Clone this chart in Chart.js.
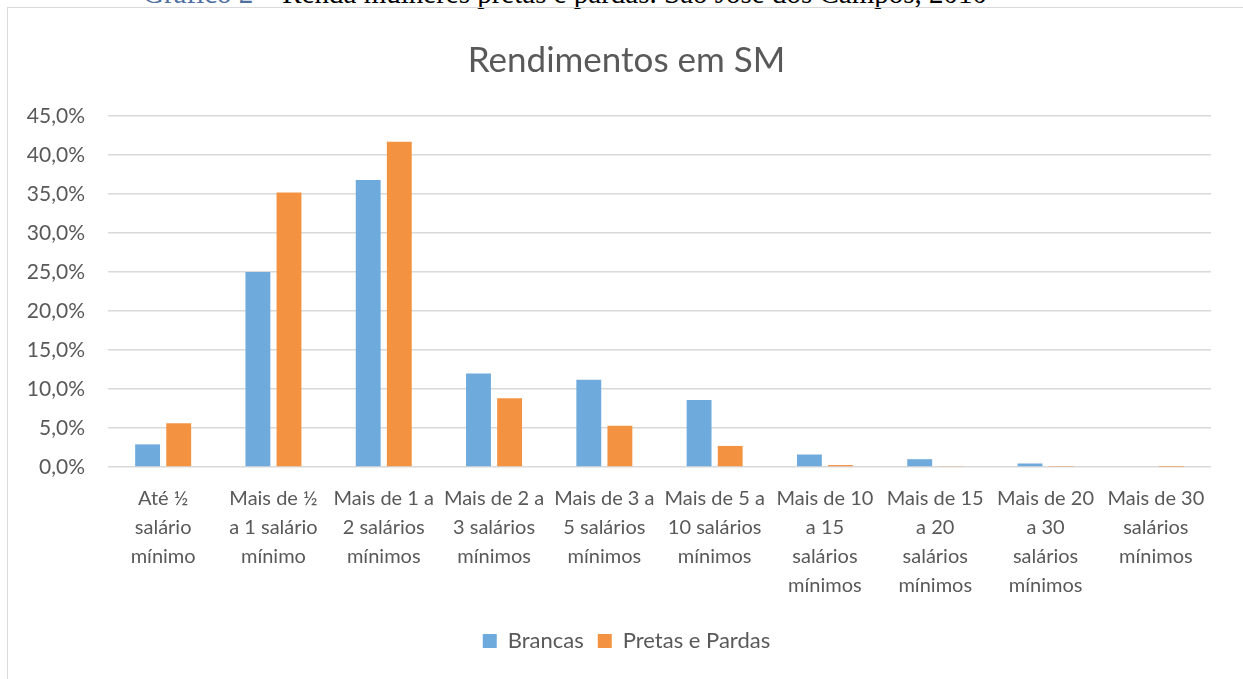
<!DOCTYPE html>
<html>
<head>
<meta charset="utf-8">
<script src="https://cdn.jsdelivr.net/npm/chart.js@4.4.1/dist/chart.umd.min.js"></script>
<style>
  html, body { margin: 0; padding: 0; background: #ffffff; overflow: hidden; }
  #wrap { position: relative; width: 1243px; height: 679px; overflow: hidden; }
  #frame { position: absolute; left: 7px; top: 7px; width: 1300px; height: 760px;
           border: 1.5px solid #d9d9d9; box-sizing: border-box; }
  #caption { position: absolute; left: 143px; top: -22px; white-space: nowrap;
             font-family: "Liberation Serif", "DejaVu Serif", serif; font-size: 29px; line-height: 30px; color: #000; }
  #caption .lbl { color: #4f6f9f; }
  #c { position: absolute; left: 0; top: 0; }
</style>
</head>
<body>
<div id="wrap">
  <div id="caption"><span class="lbl">Gráfico 2 –</span> Renda mulheres pretas e pardas. São José dos Campos, 2010</div>
  <div id="frame"></div>
  <canvas id="c" width="1243" height="679"></canvas>
</div>
<script>
const categories = [
  ["Até ½", "salário", "mínimo"],
  ["Mais de ½", "a 1 salário", "mínimo"],
  ["Mais de 1 a", "2 salários", "mínimos"],
  ["Mais de 2 a", "3 salários", "mínimos"],
  ["Mais de 3 a", "5 salários", "mínimos"],
  ["Mais de 5 a", "10 salários", "mínimos"],
  ["Mais de 10", "a 15", "salários", "mínimos"],
  ["Mais de 15", "a 20", "salários", "mínimos"],
  ["Mais de 20", "a 30", "salários", "mínimos"],
  ["Mais de 30", "salários", "mínimos"]
];
const brancas = [2.9, 25.0, 36.8, 12.0, 11.2, 8.6, 1.6, 1.0, 0.45, 0.1];
const pretasPardas = [5.6, 35.2, 41.7, 8.8, 5.3, 2.7, 0.25, 0.12, 0.05, 0.02];
const seriesNames = ["Brancas", "Pretas e Pardas"];
const chartTitle = "Rendimentos em SM";

const textColor = "#595959";
const fontFamily = "Lato, 'Noto Sans', sans-serif";

new Chart(document.getElementById("c"), {
  type: "bar",
  data: {
    labels: categories,
    datasets: [
      { label: seriesNames[0], data: brancas, backgroundColor: "#6eaadc",
        categoryPercentage: 0.564, barPercentage: 0.80 },
      { label: seriesNames[1], data: pretasPardas, backgroundColor: "#f39342",
        categoryPercentage: 0.564, barPercentage: 0.80 }
    ]
  },
  options: {
    responsive: false,
    animation: false,
    layout: { padding: { left: 10, right: 0, top: 0, bottom: 17 } },
    plugins: {
      title: {
        display: true, text: chartTitle, color: textColor,
        font: { family: fontFamily, size: 35, weight: "normal" },
        padding: { top: 40, bottom: 34 }
      },
      legend: {
        position: "bottom",
        labels: {
          color: textColor, boxWidth: 14, boxHeight: 14,
          font: { family: fontFamily, size: 22 },
          padding: 14
        }
      },
      tooltip: { enabled: false }
    },
    scales: {
      x: {
        grid: { display: false },
        border: { display: false },
        ticks: {
          color: textColor, autoSkip: false, maxRotation: 0, minRotation: 0,
          font: { family: fontFamily, size: 20, lineHeight: 1.45 },
          padding: 9
        },
        afterFit: (s) => { s.height = 149; }
      },
      y: {
        min: 0, max: 45,
        border: { display: false },
        grid: { color: "#d9d9d9", lineWidth: 1.5, drawTicks: false },
        ticks: {
          stepSize: 5, color: textColor, padding: 23,
          font: { family: fontFamily, size: 21 },
          callback: (v) => v.toFixed(1).replace(".", ",") + "%"
        },
        afterFit: (s) => { s.width = 98; }
      },
      rightSpace: {
        position: "right",
        grid: { display: false },
        border: { display: false },
        ticks: { display: false },
        afterFit: (s) => { s.width = 32; }
      }
    }
  }
});
</script>
</body>
</html>
